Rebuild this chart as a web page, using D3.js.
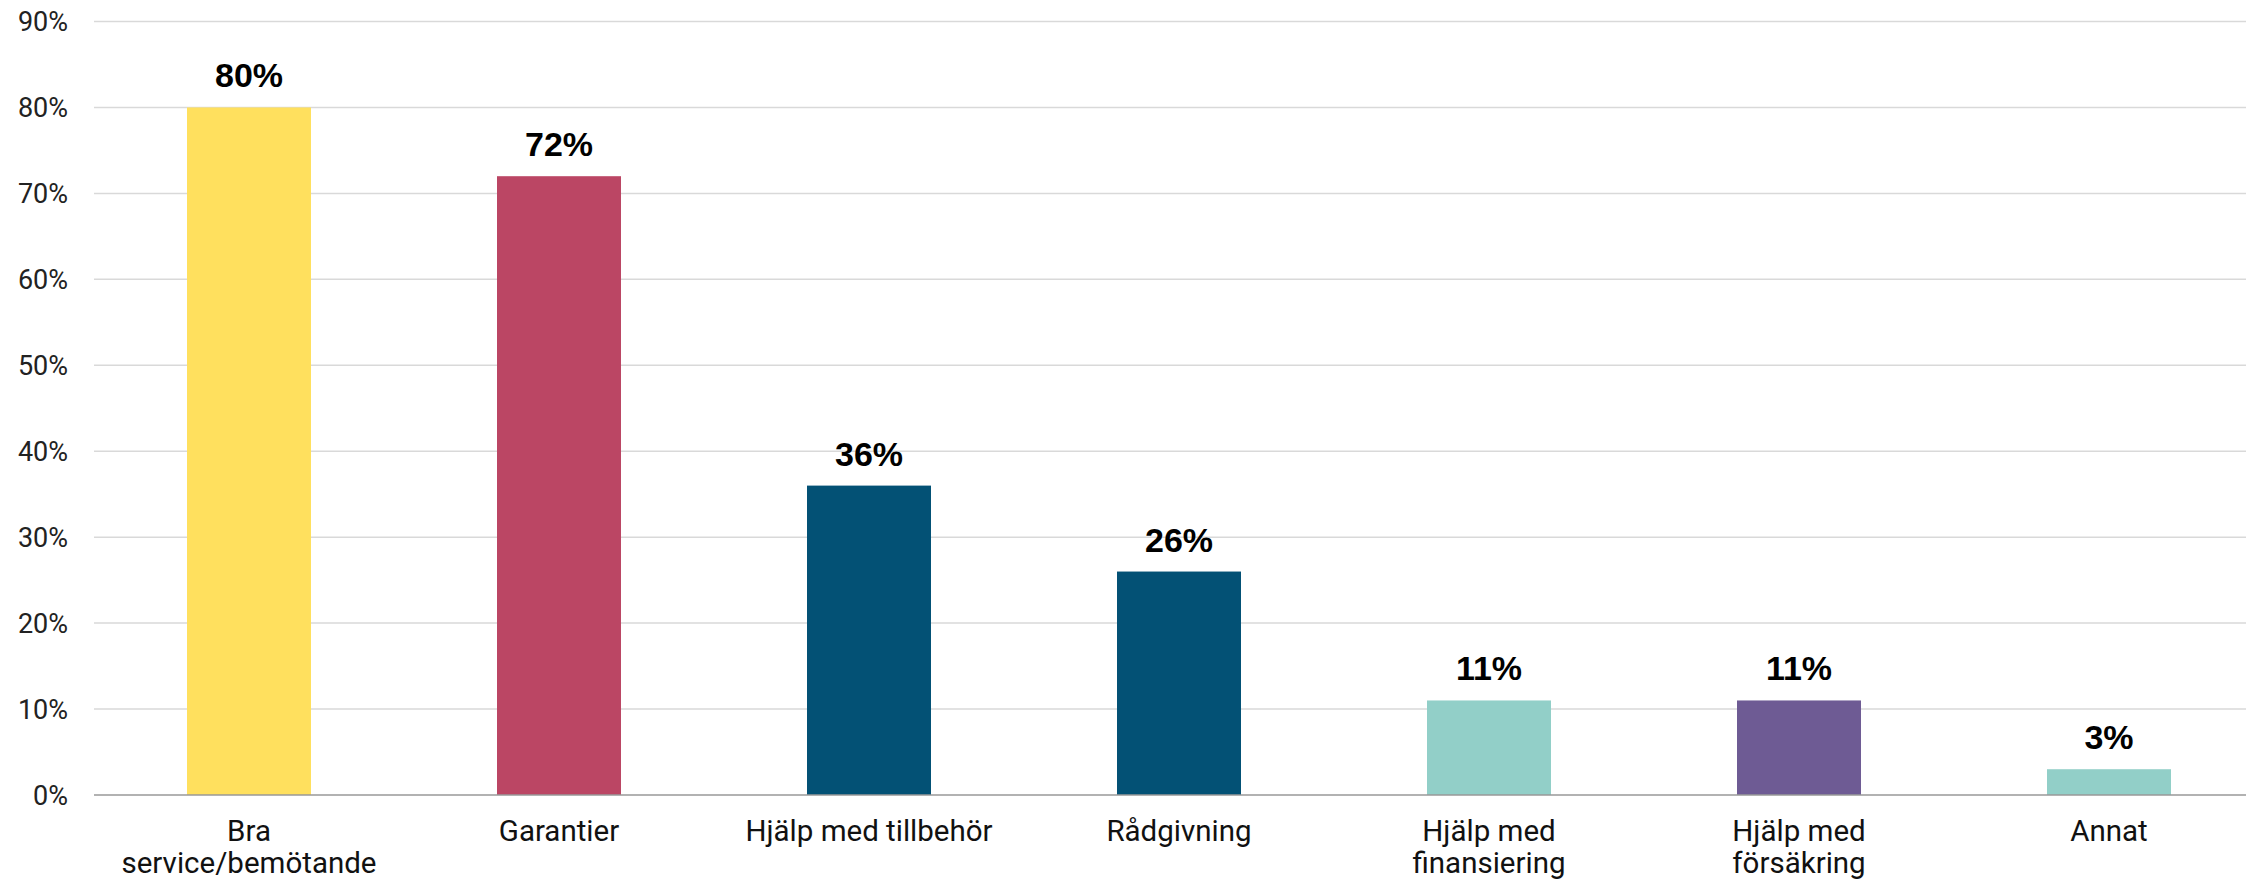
<!DOCTYPE html>
<html>
<head>
<meta charset="utf-8">
<script src="https://cdn.jsdelivr.net/npm/d3@7"></script>
<style>
  html, body { margin: 0; padding: 0; background: #fff; }
  svg { display: block; }
</style>
</head>
<body>
<svg id="chart" width="2246" height="880"></svg>
<script>
const categories = ["Bra service/bemötande", "Garantier", "Hjälp med tillbehör", "Rådgivning", "Hjälp med finansiering", "Hjälp med försäkring", "Annat"];
const values = [80, 72, 36, 26, 11, 11, 3];
const barColors = ["#FFE05E", "#BB4664", "#035175", "#035175", "#92CFC8", "#6E5B94", "#92CFC8"];
const yTicks = [0, 10, 20, 30, 40, 50, 60, 70, 80, 90];

const W = 2246, H = 880;
const svg = d3.select("#chart");
const plotLeft = 94, plotRight = 2264, plotTop = 21.5, plotBottom = 795;

const x = d3.scaleBand().domain(categories).range([plotLeft, plotRight]).paddingInner(0.6).paddingOuter(0.3);
const y = d3.scaleLinear().domain([0, 90]).range([plotBottom, plotTop]);

// gridlines
svg.append("g").selectAll("line").data(yTicks.filter(d => d > 0)).join("line")
  .attr("x1", plotLeft).attr("x2", W)
  .attr("y1", d => y(d)).attr("y2", d => y(d))
  .attr("stroke", "#d9d9d9").attr("stroke-width", 1.5);

// y axis labels
const yAxis = d3.axisLeft(y).tickValues(yTicks).tickFormat(d => d + "%").tickSize(0).tickPadding(0);
const gy = svg.append("g").attr("transform", `translate(68,0)`).call(yAxis);
gy.select(".domain").remove();
gy.selectAll("text").attr("font-family", "Roboto, 'Liberation Sans', sans-serif")
  .attr("font-size", 27).attr("fill", "#222").attr("dy", "0.35em");

// bars
svg.append("g").selectAll("rect").data(categories).join("rect")
  .attr("x", d => x(d)).attr("width", x.bandwidth())
  .attr("y", (d, i) => y(values[i])).attr("height", (d, i) => y(0) - y(values[i]))
  .attr("fill", (d, i) => barColors[i]);

// baseline
svg.append("line").attr("x1", plotLeft).attr("x2", W).attr("y1", y(0)).attr("y2", y(0))
  .attr("stroke", "#999").attr("stroke-width", 1.5);

// value labels
svg.append("g").selectAll("text").data(categories).join("text")
  .attr("x", d => x(d) + x.bandwidth() / 2)
  .attr("y", (d, i) => y(values[i]) - 20)
  .attr("text-anchor", "middle")
  .attr("font-family", "'Liberation Sans', Arial, sans-serif")
  .attr("font-weight", "bold").attr("font-size", 34).attr("fill", "#000")
  .text((d, i) => values[i] + "%");

// x axis labels with wrapping
const xAxis = d3.axisBottom(x).tickSize(0).tickPadding(0);
const gx = svg.append("g").attr("transform", `translate(0,${plotBottom})`).call(xAxis);
gx.select(".domain").remove();
const maxW = 262;
gx.selectAll("text")
  .attr("font-family", "Roboto, 'Liberation Sans', sans-serif")
  .attr("font-size", 29.5).attr("fill", "#111")
  .attr("y", 0).attr("dy", null)
  .each(function(d) {
    const t = d3.select(this);
    const words = d.split(/\s+/);
    t.text(null);
    let lines = [];
    let line = [];
    const probe = t.append("tspan");
    for (const w of words) {
      line.push(w);
      probe.text(line.join(" "));
      if (probe.node().getComputedTextLength() > maxW && line.length > 1) {
        line.pop();
        lines.push(line.join(" "));
        line = [w];
      }
    }
    lines.push(line.join(" "));
    probe.remove();
    lines.forEach((l, i) => {
      t.append("tspan").attr("x", 0).attr("y", 46 + i * 32).text(l);
    });
  });
</script>
</body>
</html>
